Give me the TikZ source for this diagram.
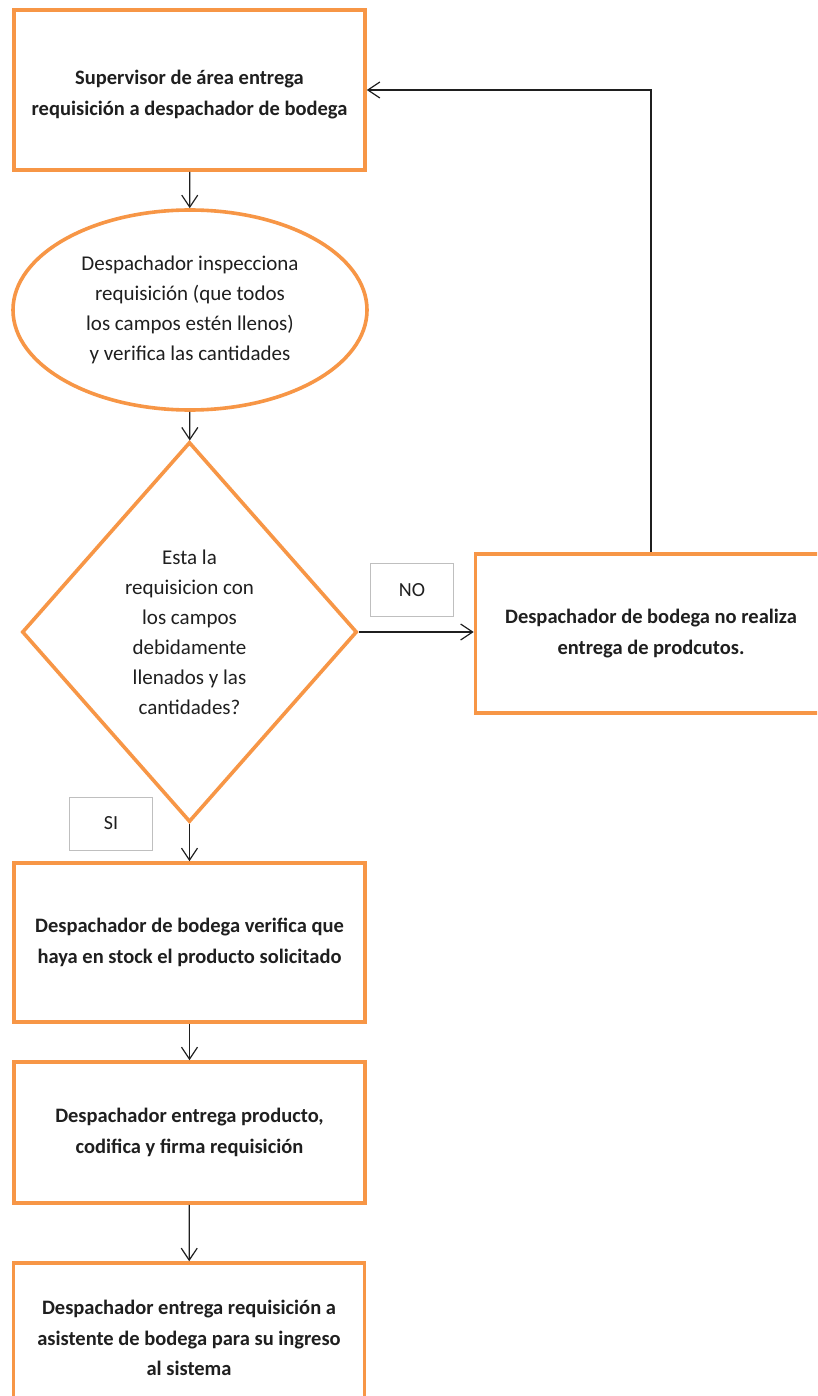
\documentclass[tikz,border=0pt]{standalone}
\usepackage{fontspec}
\setmainfont{Carlito}
\usetikzlibrary{shapes.geometric,arrows.meta}
\definecolor{borde}{HTML}{F79646}
\definecolor{tinta}{HTML}{1F1F1F}
\definecolor{gris}{HTML}{BFBFBF}
\tikzset{
  proc/.style={draw=borde, line width=3.6pt, fill=white, rectangle,
    minimum width=351pt, inner sep=0pt, align=center, text=tinta,
    font=\fontsize{20.5}{30.5}\selectfont\bfseries},
  elip/.style={draw=borde, line width=3.6pt, fill=white, ellipse,
    minimum width=354pt, minimum height=200pt, inner sep=0pt, align=center, text=tinta,
    font=\fontsize{21}{30}\selectfont},
  decis/.style={draw=borde, line width=3.6pt, fill=white, diamond,
    minimum width=335pt, minimum height=380pt, inner sep=0pt, align=center, text=tinta,
    font=\fontsize{21}{30}\selectfont},
  etiq/.style={draw=gris, line width=0.9pt, fill=white, rectangle,
    minimum width=83pt, minimum height=53pt, inner sep=0pt, text=tinta,
    font=\fontsize{20}{24}\selectfont},
  flecha/.style={draw=tinta, line width=1.2pt, -{Straight Barb[length=12pt,width=16pt,line width=1.2pt]}}
}
\begin{document}
\begin{tikzpicture}[x=1pt,y=-1pt]
\useasboundingbox (0,0) rectangle (817,1396);
\fill[white] (0,0) rectangle (817,1396);
\clip (0,0) rectangle (817,1396);

\node[proc, minimum height=160pt] (b1) at (189.5,90) {\rule{0pt}{23pt}Supervisor de área entrega\\requisición a despachador de bodega};
\node[elip] (el) at (190,310) {Despachador inspecciona\\requisición (que todos\\los campos estén llenos)\\y verifica las cantidades};
\node[decis] (di) at (189.5,632) {Esta la\\requisicion con\\los campos\\debidamente\\llenados y las\\cantidades?};
\node[proc, minimum height=159pt] (rb) at (651,633.5) {Despachador de bodega no realiza\\entrega de prodcutos.};
\node[etiq] (no) at (412,590) {NO};
\node[etiq] (si) at (111,823.5) {SI};
\node[proc, minimum height=159pt] (b4) at (189.5,942.5) {Despachador de bodega verifica que\\haya en stock el producto solicitado};
\node[proc, minimum height=141pt] (b5) at (189.5,1132.5) {Despachador entrega producto,\\codifica y firma requisición};
\node[proc, minimum height=150pt] (b6) at (189,1338) {Despachador entrega requisición a\\asistente de bodega para su ingreso\\al sistema};

\draw[flecha] (b1) -- (el);
\draw[flecha] (el) -- (di);
\draw[flecha] (di.east) -- (rb.west |- di.east);
\draw[flecha] (rb.north) |- (b1.east);
\draw[flecha] (di) -- (b4);
\draw[flecha] (b4) -- (b5);
\draw[flecha] (b5) -- (b6);
\end{tikzpicture}
\end{document}
